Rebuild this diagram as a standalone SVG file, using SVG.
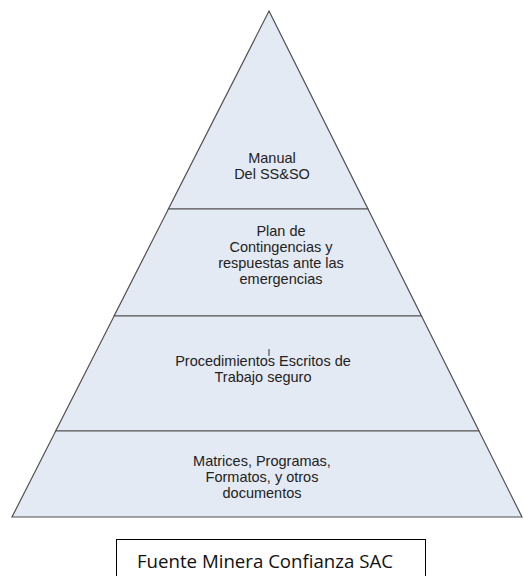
<svg xmlns="http://www.w3.org/2000/svg" width="524" height="576" viewBox="0 0 524 576">
<style>
.tier{fill:#E4EAF4;stroke:#505050;stroke-width:1.2;stroke-linejoin:miter}
.t{font-family:"Liberation Sans",Arial,sans-serif;font-size:14.5px;fill:#222;text-anchor:middle}
.src{font-family:"Open Sans","Noto Sans",sans-serif;font-size:18px;fill:#111}
</style>
<rect width="524" height="576" fill="#fff"/>
<g id="tier1">
<polygon class="tier" points="269,11 368,209 168.4,209"/>
<text class="t" x="272" y="163">Manual</text>
<text class="t" x="272" y="179">Del SS&amp;SO</text>
</g>
<g id="tier2">
<polygon class="tier" points="168.4,209 368,209 421.5,316 114.1,316"/>
<text class="t" x="281" y="236">Plan de</text>
<text class="t" x="281" y="252">Contingencias y</text>
<text class="t" x="281" y="268">respuestas ante las</text>
<text class="t" x="281" y="284">emergencias</text>
</g>
<g id="tier3">
<polygon class="tier" points="114.1,316 421.5,316 479,431 55.7,431"/>
<line x1="269" y1="349" x2="269" y2="356" stroke="#333" stroke-width="1"/>
<text class="t" x="263" y="366">Procedimientos Escritos de</text>
<text class="t" x="263" y="382">Trabajo seguro</text>
</g>
<g id="tier4">
<polygon class="tier" points="55.7,431 479,431 522,517 12,517"/>
<text class="t" x="262" y="466">Matrices, Programas,</text>
<text class="t" x="262" y="482">Formatos, y otros</text>
<text class="t" x="262" y="498">documentos</text>
</g>
<g id="source">
<rect x="116.5" y="539.5" width="309" height="50" fill="#fff" stroke="#000" stroke-width="1"/>
<text class="src" x="137" y="568" textLength="256" lengthAdjust="spacingAndGlyphs">Fuente Minera Confianza SAC</text>
</g>
<g id="connectors"></g>
</svg>
